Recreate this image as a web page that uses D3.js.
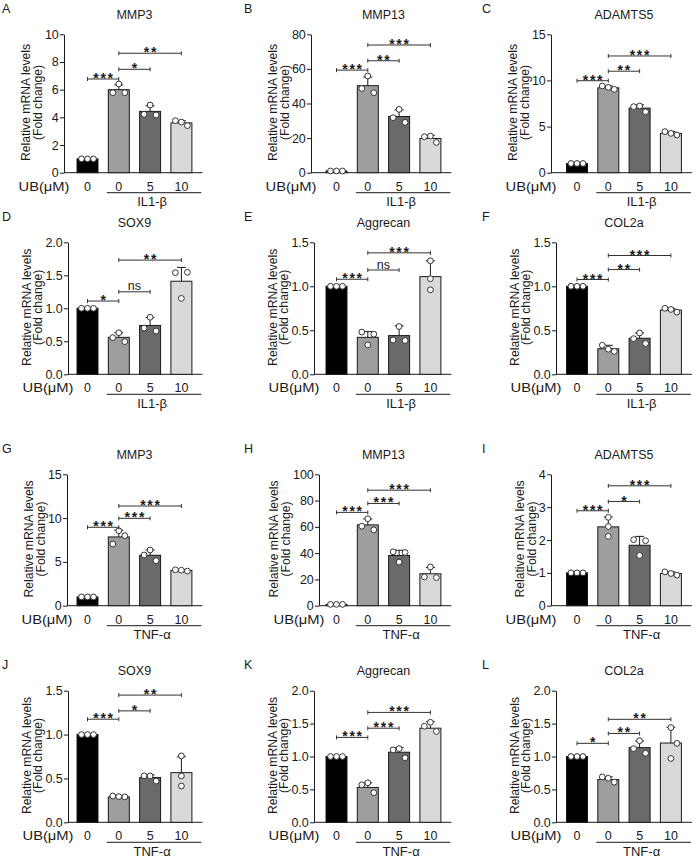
<!DOCTYPE html>
<html><head><meta charset="utf-8">
<script src="https://cdn.jsdelivr.net/npm/d3@7"></script>
<style>body{margin:0;background:#fff}</style>
</head><body><svg id="c" width="696" height="858"></svg>
<script>
// ---------------- DATA ----------------
const panelLetters = ["A","B","C","D","E","F","G","H","I","J","K","L"];
const titles = ["MMP3","MMP13","ADAMTS5","SOX9","Aggrecan","COL2a","MMP3","MMP13","ADAMTS5","SOX9","Aggrecan","COL2a"];
const groupLabels = ["IL1-β","IL1-β","IL1-β","IL1-β","IL1-β","IL1-β","TNF-α","TNF-α","TNF-α","TNF-α","TNF-α","TNF-α"];
const doseLabels = ["0","0","5","10"];
const doseTitle = "UB(μM)";
const yLabel1 = "Relative mRNA levels";
const yLabel2 = "(Fold change)";
const yTicks = [
  [0,2,4,6,8,10],[0,20,40,60,80],[0,5,10,15],
  [0,0.5,1,1.5,2],[0,0.5,1,1.5],[0,0.5,1,1.5],
  [0,5,10,15],[0,20,40,60,80,100],[0,1,2,3,4],
  [0,0.5,1,1.5],[0,0.5,1,1.5,2],[0,0.5,1,1.5,2]
];
const means = [
  [1.0,6.0,4.43,3.6],[1.0,50.3,32.5,19.8],[1.0,9.2,7.0,4.26],
  [1.0,0.56,0.74,1.41],[1.0,0.42,0.44,1.11],[1.0,0.29,0.41,0.73],
  [1.0,7.85,5.76,4.03],[1.0,61.5,38.2,24.3],[1.0,2.40,1.84,0.98],
  [1.0,0.29,0.51,0.566],[1.0,0.53,1.065,1.43],[1.0,0.65,1.135,1.205]
];
const errors = [
  [0.02,0.35,0.4,0.15],[0.3,5.0,3.8,1.8],[0.05,0.2,0.35,0.2],
  [0.01,0.07,0.12,0.21],[0.01,0.065,0.11,0.18],[0.01,0.04,0.06,0.02],
  [0.05,0.77,0.6,0.07],[0.3,4.5,4.0,4.8],[0.01,0.3,0.27,0.05],
  [0.005,0.01,0.03,0.18],[0.01,0.07,0.07,0.1],[0.01,0.04,0.1,0.24]
];
// replicate points: [value, horizontal slot (-1 left, 0 centre, 1 right)]
const ctrl = [[1,-1],[1,0],[1,1]];
const points = [
  [ctrl,[[5.78,-1],[6.41,0],[5.78,1]],[[4.22,-1],[4.89,0],[4.17,1]],[[3.76,-1],[3.66,0],[3.40,1]]],
  [ctrl,[[48.7,-1],[55.9,0],[46.2,1]],[[31.8,-1],[36.6,0],[29.1,1]],[[20.8,-1],[21.2,0],[17.5,1]]],
  [ctrl,[[9.4,-1],[9.25,0],[9.03,1]],[[7.16,-1],[7.23,0],[6.6,1]],[[4.45,-1],[4.26,0],[4.08,1]]],
  [ctrl,[[0.556,-1],[0.63,0],[0.495,1]],[[0.70,-1],[0.864,0],[0.656,1]],[[1.54,-1],[1.15,0],[1.545,1]]],
  [ctrl,[[0.48,-1],[0.334,0],[0.456,1]],[[0.39,-1],[0.543,0],[0.384,1]],[[1.29,0],[1.086,0],[0.96,0]]],
  [ctrl,[[0.33,-1],[0.285,0],[0.26,1]],[[0.405,-1],[0.47,0],[0.35,1]],[[0.75,-1],[0.737,0],[0.706,1]]],
  [ctrl,[[7.04,-1],[8.56,0],[8.0,1]],[[5.79,-1],[6.36,0],[5.14,1]],[[4.1,-1],[4.05,0],[3.95,1]]],
  [ctrl,[[60.5,-1],[66.2,0],[57.7,1]],[[41.0,-1],[33.2,0],[40.5,1]],[[21.9,-1],[29.5,0],[21.4,1]]],
  [ctrl,[[2.69,0],[2.41,0],[2.11,0]],[[2.01,-1],[1.53,0],[1.98,1]],[[1.03,-1],[0.98,0],[0.93,1]]],
  [ctrl,[[0.30,-1],[0.293,0],[0.29,1]],[[0.53,-1],[0.528,0],[0.47,1]],[[0.757,0],[0.528,0],[0.414,0]]],
  [ctrl,[[0.57,-1],[0.60,0],[0.45,1]],[[1.10,-1],[1.12,0],[0.98,1]],[[1.46,-1],[1.52,0],[1.38,1]]],
  [ctrl,[[0.69,-1],[0.67,0],[0.61,1]],[[1.12,-1],[1.24,0],[1.05,1]],[[1.44,0],[1.2,1],[0.97,0]]]
];
// significance brackets: [from bar, to bar, label, level (data units)]
const sigs = [
  [[0,1,"***",6.77],[1,2,"*",7.47],[1,3,"**",8.63]],
  [[0,1,"***",59.3],[1,2,"**",64.7],[1,3,"***",73.8]],
  [[0,1,"***",9.97],[1,2,"**",11.0],[1,3,"***",12.65]],
  [[0,1,"*",1.11],[1,2,"ns",1.25],[1,3,"**",1.73]],
  [[0,1,"***",1.08],[1,2,"ns",1.185],[1,3,"***",1.38]],
  [[0,1,"***",1.077],[1,2,"**",1.19],[1,3,"***",1.35]],
  [[0,1,"***",8.95],[1,2,"***",9.97],[1,3,"***",11.38]],
  [[0,1,"***",71.0],[1,2,"***",77.8],[1,3,"***",87.9]],
  [[0,1,"***",2.89],[1,2,"*",3.17],[1,3,"***",3.65]],
  [[0,1,"***",1.175],[1,2,"*",1.27],[1,3,"**",1.45]],
  [[0,1,"***",1.29],[1,2,"***",1.43],[1,3,"***",1.67]],
  [[0,1,"*",1.2],[1,2,"**",1.35],[1,3,"**",1.565]]
];
const barColors = ["#000000","#9e9e9e","#6a6a6a","#d9d9d9"];

// ---------------- LAYOUT ----------------
const FONT = "'Liberation Sans', Arial, Helvetica, sans-serif";
const rowTop = [34.3,242.3,474.3,690.7], rowBot = [172.7,374.3,605.7,822.3];
const colBar1 = [87.5,336.5,577], STEP = 31.3, BW = 21;
const axisXs = [64,311,551,68,314,556,67,319,551,68,314,556];
const letterX = [2,244,482];
const INK = "#1a1a1a";
const TICKFS = 12.5;
const XLAB_BASE = 18;

const svg = d3.select("#c");
svg.append("rect").attr("width",696).attr("height",858).attr("fill","#fff");

for (let p = 0; p < 12; p++) {
  const r = Math.floor(p/3), c = p % 3;
  const top = rowTop[r], bot = rowBot[r], ax = axisXs[p];
  const g = svg.append("g").attr("font-family", FONT).attr("fill", INK);
  const pad = 1 - BW/STEP;
  const x = d3.scaleBand().domain(d3.range(4))
    .range([colBar1[c]-STEP/2, colBar1[c]+3*STEP+STEP/2])
    .paddingInner(pad).paddingOuter(pad/2);
  const cx = i => x(i) + x.bandwidth()/2;
  const ymax = yTicks[p][yTicks[p].length-1];
  const y = d3.scaleLinear().domain([0, ymax]).range([bot, top]);
  const decimals = yTicks[p].some(v => v % 1 !== 0);
  const fmt = decimals ? d3.format(".1f") : d3.format("d");

  // y axis
  const ya = g.append("g").attr("transform", `translate(${ax},0)`)
    .call(d3.axisLeft(y).tickValues(yTicks[p]).tickFormat(fmt).tickSize(4).tickSizeOuter(0).tickPadding(1.2));
  ya.attr("font-size", TICKFS).attr("font-family", FONT);
  ya.selectAll("path,line").attr("stroke", INK).attr("stroke-width", 1);
  ya.selectAll("text").attr("fill", INK);

  // x baseline
  const xEnd = colBar1[c] + 3*STEP + 21;
  g.append("line").attr("x1", ax).attr("x2", xEnd).attr("y1", bot).attr("y2", bot)
    .attr("stroke", INK).attr("stroke-width", 1);

  // x labels
  const xa = g.append("g").attr("transform", `translate(0,${bot})`)
    .call(d3.axisBottom(x).tickFormat(i => doseLabels[i]).tickSize(0).tickPadding(XLAB_BASE - 0.71*TICKFS));
  xa.select(".domain").remove();
  xa.attr("font-size", TICKFS).attr("font-family", FONT);
  xa.selectAll("text").attr("fill", INK);
  g.append("text").attr("x", ax + 5.5).attr("y", bot + XLAB_BASE).attr("text-anchor", "end")
    .attr("font-size", TICKFS).attr("textLength", 51).attr("lengthAdjust", "spacingAndGlyphs")
    .text(doseTitle);

  // group underline + label
  g.append("line").attr("x1", cx(1) - 12).attr("x2", cx(3) + 20)
    .attr("y1", bot + 20).attr("y2", bot + 20).attr("stroke", INK).attr("stroke-width", 1);
  g.append("text").attr("x", (cx(1) - 12 + cx(3) + 20)/2 - 2).attr("y", bot + 33.5)
    .attr("text-anchor", "middle").attr("font-size", 13).text(groupLabels[p]);

  // bars
  g.selectAll(".bar").data(means[p]).join("rect")
    .attr("x", (d,i) => x(i)).attr("width", x.bandwidth())
    .attr("y", d => y(d)).attr("height", d => bot - y(d))
    .attr("fill", (d,i) => barColors[i]).attr("stroke", INK).attr("stroke-width", 1);

  // error bars
  means[p].forEach((m, i) => {
    const e = errors[p][i];
    g.append("line").attr("x1", cx(i)).attr("x2", cx(i)).attr("y1", y(m)).attr("y2", y(m+e))
      .attr("stroke", INK).attr("stroke-width", 1);
    g.append("line").attr("x1", cx(i)-4.5).attr("x2", cx(i)+4.5).attr("y1", y(m+e)).attr("y2", y(m+e))
      .attr("stroke", INK).attr("stroke-width", 1);
  });

  // points
  points[p].forEach((pts, i) => {
    pts.forEach(([v, s]) => {
      g.append("circle").attr("cx", cx(i) + s*6).attr("cy", y(v)).attr("r", 2.9)
        .attr("fill", "#fff").attr("stroke", "#333").attr("stroke-width", 1);
    });
  });

  // significance
  sigs[p].forEach(([a, b, lab, lev]) => {
    const ly = y(lev), x1 = cx(a), x2 = cx(b);
    g.append("line").attr("x1", x1).attr("x2", x2).attr("y1", ly).attr("y2", ly)
      .attr("stroke", "#333").attr("stroke-width", 1);
    [x1, x2].forEach(xx => g.append("line").attr("x1", xx).attr("x2", xx)
      .attr("y1", ly - 2).attr("y2", ly + 2).attr("stroke", "#333").attr("stroke-width", 1));
    const mid = (x1 + x2)/2;
    if (lab === "ns") {
      g.append("text").attr("x", mid).attr("y", ly - 1.5).attr("text-anchor", "middle")
        .attr("font-size", 12.5).text(lab);
    } else {
      const n = lab.length;
      for (let k = 0; k < n; k++) {
        g.append("text").attr("x", mid + (k - (n-1)/2)*7.2).attr("y", ly + 4)
          .attr("text-anchor", "middle").attr("font-size", 14).attr("font-weight", "bold").text("*");
      }
    }
  });

  // y label
  const bb = ya.node().getBBox();
  const left = ax + bb.x;
  const ymid = (top + bot)/2 - 1;
  g.append("text").attr("transform", `translate(${left - 14.5},${ymid}) rotate(-90)`)
    .attr("text-anchor", "middle").attr("font-size", 12.2).text(yLabel1);
  g.append("text").attr("transform", `translate(${left - 3},${ymid}) rotate(-90)`)
    .attr("text-anchor", "middle").attr("font-size", 12.2).text(yLabel2);

  // title and letter
  g.append("text").attr("x", colBar1[c] + 1.5*STEP).attr("y", top - 15.7)
    .attr("text-anchor", "middle").attr("font-size", 12.5).text(titles[p]);
  g.append("text").attr("x", letterX[c]).attr("y", top - 21.5)
    .attr("font-size", 12.5).text(panelLetters[p]);
}
</script></body></html>
